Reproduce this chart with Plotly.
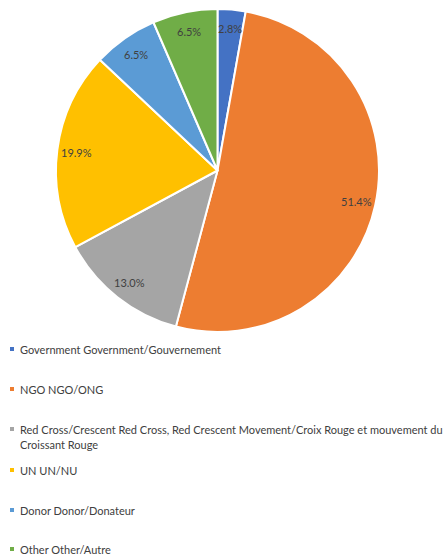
import math
import plotly.graph_objects as go

labels = [
    "Government Government/Gouvernement",
    "NGO NGO/ONG",
    "Red Cross/Crescent Red Cross, Red Crescent Movement/Croix Rouge et mouvement du<br>Croissant Rouge",
    "UN UN/NU",
    "Donor Donor/Donateur",
    "Other Other/Autre",
]
values = [2.8, 51.4, 13.0, 19.9, 6.5, 6.5]
colors = ["#4472C4", "#ED7D31", "#A5A5A5", "#FFC000", "#5B9BD5", "#70AD47"]

W, H = 443, 556
CX, CY, R = 217.5, 170.5, 161.5
FONT = "Lato"
TXT = "#404040"

fig = go.Figure(go.Pie(
    labels=[l.replace("<br>", " ") for l in labels],
    values=values,
    marker=dict(colors=colors, line=dict(color="white", width=2)),
    sort=False,
    direction="clockwise",
    rotation=0,
    textinfo="none",
    hoverinfo="label+percent",
    showlegend=False,
    domain=dict(x=[(CX - R) / W, (CX + R) / W], y=[1 - (CY + R) / H, 1 - (CY - R) / H]),
))

annotations = []
shapes = []
total = sum(values)
cum = 0.0
for v in values:
    th = 2 * math.pi * (cum + v / 2) / total
    cum += v
    px = CX + 0.88 * R * math.sin(th)
    py = CY - 0.88 * R * math.cos(th)
    annotations.append(dict(
        x=px / W, y=1 - py / H, xref="paper", yref="paper",
        text=f"{v:.1f}%", showarrow=False,
        font=dict(family=FONT, size=11, color=TXT),
        xanchor="center", yanchor="middle",
    ))

leg_y = [349, 389, 429, 470, 510, 549]
for lab, col, y in zip(labels, colors, leg_y):
    for i, line in enumerate(lab.split("<br>")):
        annotations.append(dict(
            x=19 / W, y=1 - (y + 15 * i) / H, xref="paper", yref="paper",
            text=line, showarrow=False, align="left", borderpad=0,
            font=dict(family=FONT, size=11, color=TXT),
            xanchor="left", yanchor="middle",
        ))
    shapes.append(dict(
        type="rect", xref="paper", yref="paper",
        x0=10 / W, x1=14 / W, y0=1 - (y + 2) / H, y1=1 - (y - 2) / H,
        fillcolor=col, line=dict(width=0),
    ))

fig.update_layout(
    width=W, height=H,
    margin=dict(l=0, r=0, t=0, b=0),
    paper_bgcolor="white", plot_bgcolor="white",
    annotations=annotations, shapes=shapes,
    font=dict(family=FONT, color=TXT),
)

fig.write_html("out.html")
